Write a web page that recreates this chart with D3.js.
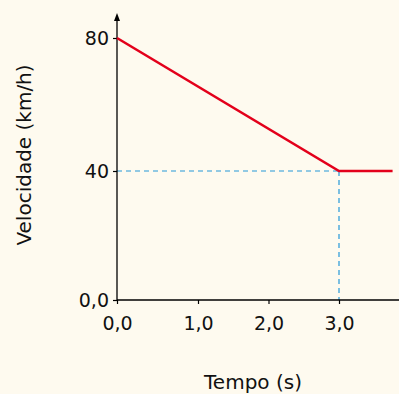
<!DOCTYPE html>
<html><head><meta charset="utf-8">
<script src="https://cdn.jsdelivr.net/npm/d3@7"></script>
<style>
html,body{margin:0;padding:0;background:#fefaef;}
svg{display:block;font-family:"DejaVu Sans",Verdana,sans-serif;}
</style></head>
<body>
<svg id="c" width="399" height="394"></svg>
<script>
// Data
const timeValues = [0, 3, 3.76];
const speedValues = [80, 40, 40];
const xTickValues = [0, 1, 2, 3];
const xTickLabels = ["0,0", "1,0", "2,0", "3,0"];
const yTickValues = [0, 40, 80];
const yTickLabels = ["0,0", "40", "80"];
const markTime = 3, markSpeed = 40;

const svg = d3.select("#c");
const W = 399, H = 394;
svg.append("rect").attr("width", W).attr("height", H).attr("fill", "#fefaef");

// the original axis spacing is not uniform; polylinear scale mirrors it
const x = d3.scaleLinear().domain([0, 1, 3]).range([117, 198, 339]);
const y = d3.scaleLinear().domain([0, 40, 80]).range([300, 171, 38]);

const g = svg.append("g");

// dashed guides
g.append("line").attr("x1", x(0)).attr("x2", x(markTime))
  .attr("y1", y(markSpeed)).attr("y2", y(markSpeed))
  .attr("stroke", "#2598d8").attr("stroke-width", 1.2).attr("stroke-dasharray", "5,4");
g.append("line").attr("x1", x(markTime)).attr("x2", x(markTime))
  .attr("y1", y(markSpeed)).attr("y2", y(0))
  .attr("stroke", "#2598d8").attr("stroke-width", 1.2).attr("stroke-dasharray", "5,4");

// x axis
const xAxis = d3.axisBottom(x).tickValues(xTickValues)
  .tickFormat((d, i) => xTickLabels[i]).tickSize(4).tickSizeOuter(0).tickPadding(13);
const gx = g.append("g").attr("transform", `translate(0,${y(0)})`).call(xAxis);
gx.attr("font-size", null).attr("font-family", null);
gx.select(".domain").attr("d", `M${x(0)},0H${W}`).attr("stroke", "#000").attr("stroke-width", 1.3);
gx.selectAll(".tick line").attr("stroke", "#000").attr("stroke-width", 1.2);
gx.selectAll(".tick text").style("font-size", "19px").attr("fill", "#111");

// y axis
const yAxis = d3.axisLeft(y).tickValues(yTickValues)
  .tickFormat((d, i) => yTickLabels[i]).tickSize(4).tickSizeOuter(0).tickPadding(4);
const gy = g.append("g").attr("transform", `translate(${x(0)},0)`).call(yAxis);
gy.attr("font-size", null).attr("font-family", null);
gy.select(".domain").attr("d", `M0,${y(0)}V18`).attr("stroke", "#000").attr("stroke-width", 1.3);
gy.selectAll(".tick line").attr("stroke", "#000").attr("stroke-width", 1.2);
gy.selectAll(".tick text").style("font-size", "19px").attr("fill", "#111");

// arrowhead on y axis
g.append("path").attr("d", `M${x(0)},13L${x(0) - 3},21L${x(0) + 3},21Z`).attr("fill", "#000");

// data line
const line = d3.line().x((d, i) => x(timeValues[i])).y((d, i) => y(speedValues[i]));
g.append("path").datum(timeValues).attr("d", line)
  .attr("fill", "none").attr("stroke", "#e3001b").attr("stroke-width", 2.6)
  .attr("stroke-linejoin", "miter");

// titles
svg.append("text").attr("x", 253).attr("y", 389).attr("text-anchor", "middle")
  .style("font-size", "20px").attr("fill", "#111").text("Tempo (s)");
svg.append("text").attr("transform", "translate(31,155) rotate(-90)").attr("text-anchor", "middle")
  .style("font-size", "20px").attr("fill", "#111").text("Velocidade (km/h)");
</script>
</body></html>
